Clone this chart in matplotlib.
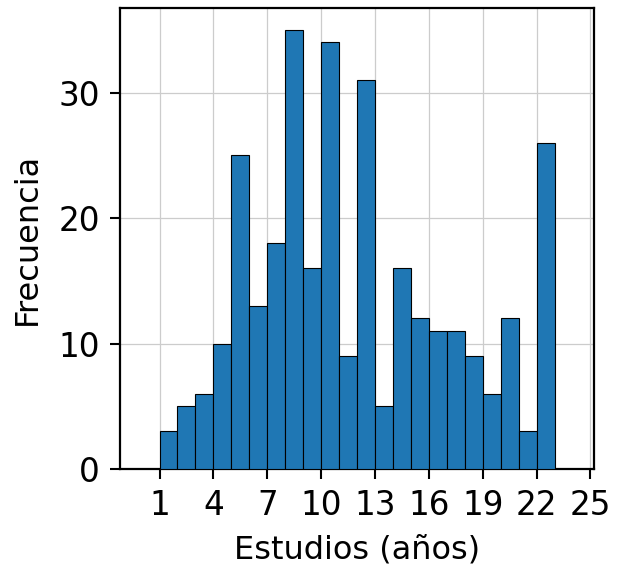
import matplotlib
matplotlib.use("Agg")
import matplotlib.pyplot as plt
import numpy as np

bin_edges = list(range(1, 24))
counts = [3, 5, 6, 10, 25, 13, 18, 35, 16, 34, 9, 31, 5, 16, 12, 11, 11, 9, 6, 12, 3, 26]
xticks = list(range(1, 26, 3))
yticks = [0, 10, 20, 30]

fig = plt.figure(figsize=(6.21, 5.71), dpi=100)
ax = fig.add_axes([120/621, (571-469)/571, (594-120)/621, (469-8)/571])
ax.hist(bin_edges[:-1], bins=bin_edges, weights=counts, color="#1f77b4",
        edgecolor="black", linewidth=0.8, zorder=3)
ax.grid(True, color="#cccccc", linewidth=0.9, zorder=0)
ax.set_axisbelow(True)
ax.set_xlim(-1.2, 25.2)
ax.set_ylim(0, 36.75)
ax.set_xticks(xticks)
ax.set_yticks(yticks)
ax.tick_params(labelsize=23.5, length=7.5, width=1.5, pad=7)
for s in ax.spines.values():
    s.set_linewidth(1.6)
ax.set_xlabel("Estudios (años)", fontsize=23, labelpad=9)
ax.set_ylabel("Frecuencia", fontsize=23, labelpad=11)
fig.savefig("out.png", dpi=100)
